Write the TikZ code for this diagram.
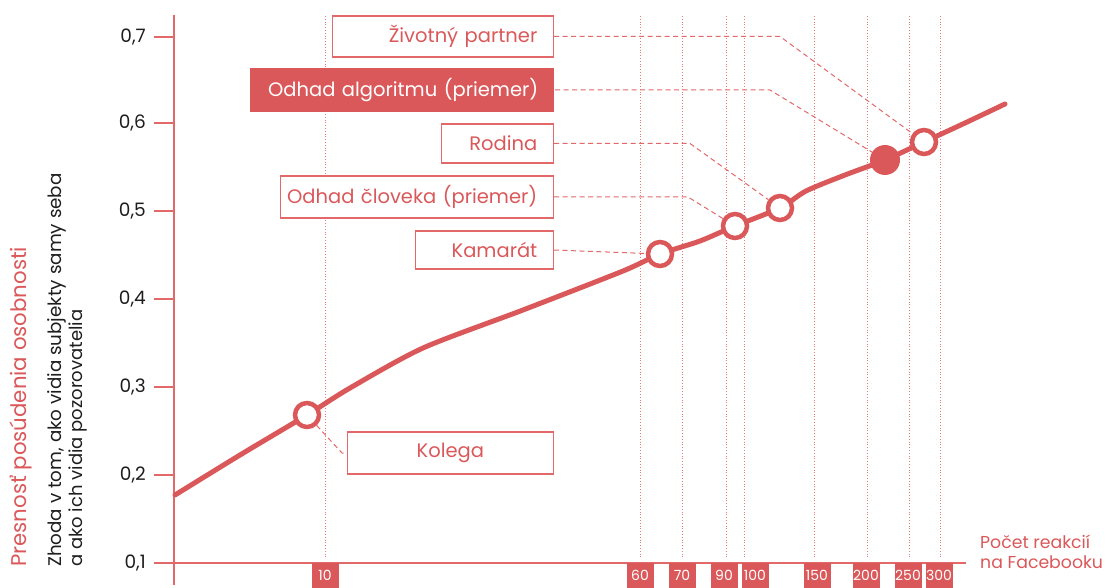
\documentclass[tikz,border=0pt]{standalone}
\usepackage{fontspec}
\setmainfont{Poppins}
\usetikzlibrary{calc}
\definecolor{myred}{RGB}{219,88,90}
\definecolor{gridred}{RGB}{232,120,122}
\definecolor{boxred}{RGB}{226,104,106}
\definecolor{ink}{RGB}{30,30,30}
\begin{document}
\begin{tikzpicture}[x=1pt,y=-1pt,
  gridline/.style={gridred,dotted,line width=0.8pt},
  axisline/.style={boxred,line width=1.6pt},
  lead/.style={boxred,dashed,dash pattern=on 5pt off 3.5pt,line width=1pt},
  lbl/.style={draw=boxred,fill=white,line width=1.4pt,text=myred,inner xsep=16pt,inner ysep=0pt,anchor=east,align=right,font=\fontsize{19.5}{22}\selectfont},
  ptopen/.style={circle,draw=myred,fill=white,line width=4.5pt,minimum size=24pt,inner sep=0pt},
  ptfull/.style={circle,fill=myred,minimum size=30pt,inner sep=0pt},
  xbox/.style={fill=myred,text=white,minimum width=27pt,minimum height=25pt,inner sep=0pt,font=\fontsize{14}{16}\selectfont},
  ytick/.style={anchor=east,text=ink,inner sep=0pt,font=\fontsize{18.5}{20}\selectfont}]
\useasboundingbox (0,0) rectangle (1106,588);
\fill[white] (0,0) rectangle (1106,588);
% dotted vertical grid lines
\foreach \gx in {325,640,682,726,744,814,867,909,940}{
  \draw[gridline] (\gx,16) -- (\gx,559);
}
% axes
\coordinate (yaxtop) at (174,15);
\coordinate (yaxbot) at (174,585);
\coordinate (xaxl) at (154,563);
\coordinate (xaxr) at (966,563);
\draw[axisline] (yaxtop) -- (yaxbot);
\draw[axisline] (xaxl) -- (xaxr);
\foreach \yy/\lab in {37/{0,7},123/{0,6},211/{0,5},299/{0,4},387/{0,3},475/{0,2},563/{0,1}}{
  \draw[axisline] (154,\yy) -- (174,\yy);
  \node[ytick] at (146,\yy) {\lab};
}
% y titles
\node[rotate=90,anchor=west,inner sep=0pt,text=myred,font=\fontsize{21.3}{23}\selectfont] (ytitle) at (21,567) {Presnosť posúdenia osobnosti};
\node[rotate=90,anchor=west,inner sep=0pt,text=ink,font=\fontsize{18.3}{20}\selectfont] (ysub1) at (57,567) {Zhoda v tom, ako vidia subjekty samy seba};
\node[rotate=90,anchor=west,inner sep=0pt,text=ink,font=\fontsize{18}{20}\selectfont] (ysub2) at (78,567) {a ako ich vidia pozorovatelia};
% x tick boxes
\foreach \nm/\bx/\lab in {x10/325/10,x60/640/60,x70/682/70,x90/724/90,x100/755/100,x150/817/150,x200/866/200,x250/908/250,x300/939/300}{
  \node[xbox] (\nm) at (\bx,575.5) {\lab};
}
\node[anchor=base west,align=left,inner sep=0pt,text=myred,font=\fontsize{17.3}{19.5}\selectfont] (xtitle) at (980,568) {Počet reakcií\\na Facebooku};
% label boxes
\node[lbl,minimum width=221pt,minimum height=41pt,text width=189pt] (zp) at (554,36.5) {Životný partner};
\node[lbl,fill=myred,draw=none,text=white,minimum width=304pt,minimum height=44pt,text width=272pt] (alg) at (555,90) {\makebox[272pt][r]{Odhad algoritmu (priemer)}};
\node[lbl,minimum width=112pt,minimum height=39pt,text width=80pt] (rod) at (554,143.5) {Rodina};
\node[lbl,minimum width=273pt,minimum height=42pt,text width=241pt] (clo) at (554,197) {\makebox[241pt][r]{Odhad človeka (priemer)}};
\node[lbl,minimum width=138pt,minimum height=38pt,text width=106pt] (kam) at (554,250) {Kamarát};
\node[lbl,align=center,minimum width=206pt,minimum height=42pt,text width=174pt] (kol) at (554,453) {Kolega};
% curve
\draw[myred,line width=5pt,line cap=round] plot[smooth,tension=0.45] coordinates {
 (175,495) (240,455) (307,415) (350,388) (423,348) (523,310) (623,271) (660,254)
 (700,241) (735,226) (780,208) (806,191) (845,175) (885,160) (924,142) (965,123) (1005,104)};
% points
\node[ptopen] (pkol) at (307,415) {};
\node[ptopen] (pkam) at (660,254) {};
\node[ptopen] (pclo) at (735,226) {};
\node[ptopen] (prod) at (780,208) {};
\node[ptfull] (palg) at (885,160) {};
\node[ptopen] (pzp) at (924,142) {};
% leaders
\coordinate (bzp) at (780,36.5);
\coordinate (balg) at (770,90);
\coordinate (brod) at (690,143.5);
\coordinate (bclo) at (688,197);
\coordinate (bkol) at (342,453);
\draw[lead] (zp.east) -- (bzp) -- (pzp);
\draw[lead] (alg.east) -- (balg) -- (palg);
\draw[lead] (rod.east) -- (brod) -- (prod);
\draw[lead] (clo.east) -- (bclo) -- (pclo);
\draw[lead] (kam.east) -- (pkam);
\draw[lead] (pkol) -- (bkol) -- (kol.west);
\end{tikzpicture}
\end{document}
